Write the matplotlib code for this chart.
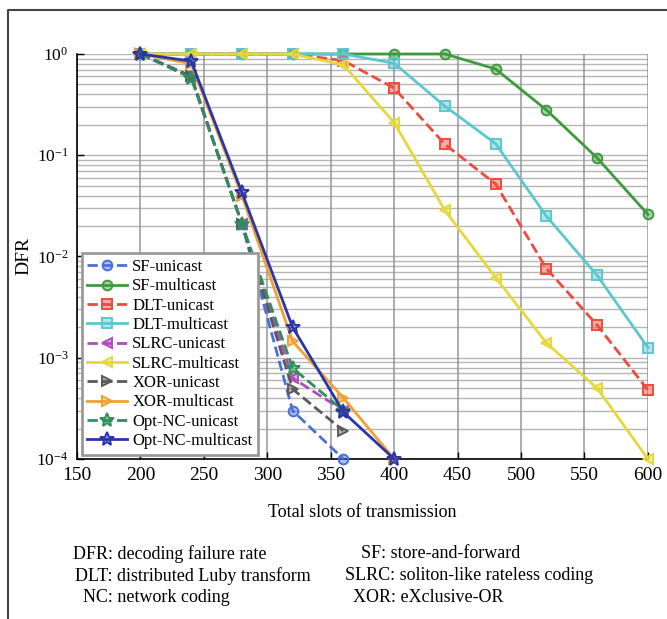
import numpy as np
import matplotlib
matplotlib.use("Agg")
import matplotlib.pyplot as plt
from matplotlib.lines import Line2D
from matplotlib.ticker import LogLocator, FixedLocator, NullFormatter

plt.rcParams['font.family'] = ['Liberation Serif', 'DejaVu Serif']
plt.rcParams['mathtext.fontset'] = 'stix'

# values
labels = ["SF-unicast", "SF-multicast", "DLT-unicast", "DLT-multicast",
          "SLRC-unicast", "SLRC-multicast", "XOR-unicast", "XOR-multicast",
          "Opt-NC-unicast", "Opt-NC-multicast"]
slots_short = [200, 240, 280, 320, 360]
slots_mid = [200, 240, 280, 320, 360, 400]
slots_full = [200, 240, 280, 320, 360, 400, 440, 480, 520, 560, 600]

sf_uni = [1.0, 0.6, 0.021, 3.0e-4, 1.0e-4]
sf_multi = [1.0, 1.0, 1.0, 1.0, 1.0, 1.0, 1.0, 0.71, 0.28, 0.094, 0.026]
dlt_uni = [1.0, 1.0, 1.0, 1.0, 0.86, 0.46, 0.128, 0.052, 0.0076, 0.0021, 4.8e-4]
dlt_multi = [1.0, 1.0, 1.0, 1.0, 1.0, 0.81, 0.305, 0.13, 0.025, 0.0065, 0.00126]
slrc_uni = [1.0, 0.6, 0.021, 6.3e-4, 3.0e-4]
slrc_multi = [1.0, 1.0, 1.0, 1.0, 0.78, 0.21, 0.0285, 0.0062, 0.0014, 5.0e-4, 1.0e-4]
xor_uni = [1.0, 0.6, 0.021, 4.9e-4, 1.9e-4]
xor_multi = [1.0, 0.8, 0.04, 0.00145, 4.0e-4, 1.0e-4]
nc_uni = [1.0, 0.58, 0.021, 7.9e-4, 3.0e-4]
nc_multi = [1.0, 0.85, 0.043, 0.002, 2.9e-4, 1.0e-4]

xs = [slots_short, slots_full, slots_full, slots_full, slots_short,
      slots_full, slots_short, slots_mid, slots_short, slots_mid]
ys = [sf_uni, sf_multi, dlt_uni, dlt_multi, slrc_uni, slrc_multi,
      xor_uni, xor_multi, nc_uni, nc_multi]
colors = ["#4a6fd8", "#3f9a3f", "#f04a3e", "#5cc7d0", "#b04cc0",
          "#e6d83a", "#5a5a5a", "#f0a034", "#2f8f5a", "#2a35a8"]
markers = ["o", "o", "s", "s", "<", "<", ">", ">", "*", "*"]
styles = ["--", "-", "--", "-", "--", "-", "--", "-", "--", "-"]

x_ticks = [150, 200, 250, 300, 350, 400, 450, 500, 550, 600]

fig = plt.figure(figsize=(6.67, 6.19), dpi=100)
ax = fig.add_axes([0.1154, 0.2585, 0.856, 0.6543])

for n in range(len(labels)):
    c = matplotlib.colors.to_rgb(colors[n])
    ms = 10 if markers[n] == "*" else 7
    ax.plot(xs[n], ys[n], linestyle=styles[n], color=c, linewidth=2.0,
            marker=markers[n], markersize=ms, markeredgewidth=1.4,
            markerfacecolor=c + (0.45,), markeredgecolor=c,
            label=labels[n], clip_on=False, zorder=3 + n)

ax.set_yscale("log")
ax.set_xlim(150, 600)
ax.set_ylim(1e-4, 1)
ax.xaxis.set_major_locator(FixedLocator(x_ticks))
ax.yaxis.set_major_locator(LogLocator(base=10, numticks=10))
ax.yaxis.set_minor_locator(LogLocator(base=10, subs=np.arange(2, 10), numticks=10))
ax.yaxis.set_minor_formatter(NullFormatter())
ax.tick_params(axis="both", which="major", direction="in", length=5, width=1,
               labelsize=14, pad=6)
ax.tick_params(axis="y", which="major", labelsize=12.5, pad=6)
ax.tick_params(axis="y", which="minor", length=0)
ax.grid(True, which="major", axis="x", color="#808080", linewidth=1.2, alpha=0.75)
ax.grid(True, which="both", axis="y", color="#909090", linewidth=1.0, alpha=0.65)
ax.set_axisbelow(True)
for s in ["top", "right"]:
    ax.spines[s].set_visible(False)
for s in ["left", "bottom"]:
    ax.spines[s].set_linewidth(1.2)

ax.set_xlabel("Total slots of transmission", fontsize=13, labelpad=14)
ax.set_ylabel("DFR", fontsize=14, labelpad=3)

leg = ax.legend(loc="lower left", bbox_to_anchor=(0.008, 0.01), fontsize=12,
                handlelength=2.4, handletextpad=0.3, labelspacing=0.2,
                borderpad=0.35, borderaxespad=0.0, fancybox=False,
                framealpha=1, edgecolor="#9a9a9a")
leg.get_frame().set_linewidth(2)
leg.set_zorder(20)

notes = [
    (73, 554, "DFR: decoding failure rate"),
    (75, 576, "DLT: distributed Luby transform"),
    (83, 597, "NC: network coding"),
    (361, 554, "SF: store-and-forward"),
    (345, 576, "SLRC: soliton-like rateless coding"),
    (353, 597, "XOR: eXclusive-OR"),
]
for px, py, t in notes:
    fig.text(px / 667, 1 - py / 619, t, fontsize=13, ha="left", va="center")

# frame round the figure (top and left edges only visible)
fig.add_artist(Line2D([8 / 667, 8 / 667, 1.0], [0.0, 1 - 10 / 619, 1 - 10 / 619],
                      color="#444444", linewidth=1.5, transform=fig.transFigure))

fig.savefig("out.png", dpi=100)
